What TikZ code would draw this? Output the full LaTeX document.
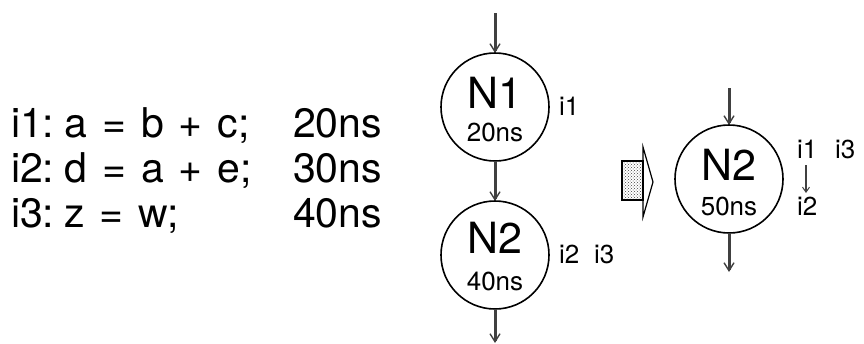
\documentclass[tikz,border=0pt]{standalone}
\usepackage{fontspec}
\setmainfont{TeX Gyre Heros}
\usetikzlibrary{arrows.meta,patterns}
\newcommand\codefont{\fontsize{41}{41}\selectfont\spaceskip=15pt plus 2pt\relax}
\begin{document}
\begin{tikzpicture}[x=1pt,y=-1pt,
  every node/.style={inner sep=0pt,outer sep=0pt},
  big/.style={font=\codefont,anchor=base west},
  nodecirc/.style={circle,draw,line width=1.6pt,minimum size=108pt},
  nname/.style={font=\fontsize{43}{43}\selectfont,anchor=base},
  ntime/.style={font=\fontsize{26}{26}\selectfont,anchor=base},
  lbl/.style={font=\fontsize{26}{26}\selectfont,anchor=base west},
  arr/.style={line width=3pt,draw=black!75,-{Straight Barb[length=8pt,width=10pt,line width=1.4pt]}}]
\useasboundingbox (0,0) rectangle (864,343);
% code lines
\node[big] (l1) at (11,137) {i1:\hspace{10pt}a = b + c;};
\node[big] (t1) at (293,137) {20ns};
\node[big] (l2) at (11,182) {i2:\hspace{10pt}d = a + e;};
\node[big] (t2) at (293,182) {30ns};
\node[big] (l3) at (11,227) {i3:\hspace{10pt}z = w;};
\node[big] (t3) at (293,227) {40ns};
% left chain
\node[nodecirc] (n1) at (495,107) {};
\node[nname] (n1a) at (495,108) {N1};
\node[ntime] (n1b) at (495,141) {20ns};
\node[nodecirc] (n2) at (495,255) {};
\node[nname] (n2a) at (495,253) {N2};
\node[ntime] (n2b) at (495,290) {40ns};
\coordinate (in1) at (495,13);
\coordinate (out2) at (495,343);
\draw[arr] (in1) -- (n1);
\draw[arr] (n1) -- (n2);
\draw[arr] (n2) -- (out2);
\node[lbl] (li1) at (559,115) {i1};
\node[lbl] (li2) at (559,263) {i2};
\node[lbl] (li3) at (594,263) {i3};
% transform arrow
\filldraw[line width=1.2pt,fill=white] (643,147) -- (653,182) -- (643,217) -- cycle;
\filldraw[line width=1.6pt,pattern=crosshatch dots,pattern color=black!75] (622,161) rectangle (643,200);
\node (blk) at (636,181) {};
% right node
\node[nodecirc] (m) at (729,179) {};
\node[nname] (ma) at (729,180) {N2};
\node[ntime] (mb) at (729,215) {50ns};
\coordinate (inm) at (729,88);
\coordinate (outm) at (729,272);
\draw[arr] (inm) -- (m);
\draw[arr] (m) -- (outm);
\node[lbl] (r1) at (797,158) {i1};
\node[lbl] (r3) at (835,158) {i3};
\node[lbl] (r2) at (797,215) {i2};
\coordinate (ra) at (806,165);
\coordinate (rb) at (806,193);
\draw[line width=1.8pt,draw=black!75,-{Straight Barb[length=5pt,width=7pt,line width=1pt]}] (ra) -- (rb);
\end{tikzpicture}
\end{document}
